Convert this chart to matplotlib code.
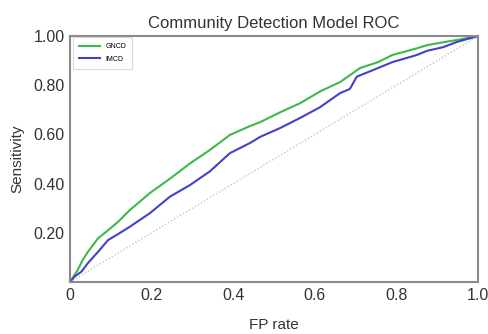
import matplotlib
matplotlib.use("Agg")
import matplotlib.pyplot as plt

plt.rcParams["font.family"] = ["Liberation Sans", "DejaVu Sans"]

# ROC points
gncd_fpr = [0, 0.019, 0.031, 0.044, 0.069, 0.093, 0.118, 0.147, 0.196, 0.245,
            0.294, 0.343, 0.392, 0.441, 0.466, 0.515, 0.564, 0.613, 0.662,
            0.711, 0.755, 0.79, 0.85, 0.875, 0.915, 0.948, 1.0]
gncd_tpr = [0, 0.049, 0.089, 0.123, 0.178, 0.21, 0.245, 0.293, 0.362, 0.42,
            0.482, 0.537, 0.598, 0.634, 0.65, 0.69, 0.727, 0.775, 0.813,
            0.87, 0.894, 0.923, 0.95, 0.963, 0.975, 0.984, 1.0]

imcd_fpr = [0, 0.011, 0.028, 0.044, 0.069, 0.093, 0.118, 0.147, 0.196, 0.245,
            0.294, 0.343, 0.392, 0.441, 0.466, 0.515, 0.564, 0.613, 0.662,
            0.686, 0.703, 0.755, 0.79, 0.85, 0.875, 0.915, 0.948, 1.0]
imcd_tpr = [0, 0.022, 0.042, 0.077, 0.123, 0.17, 0.195, 0.225, 0.28, 0.347,
            0.394, 0.45, 0.524, 0.565, 0.59, 0.626, 0.667, 0.711, 0.768,
            0.785, 0.835, 0.87, 0.894, 0.923, 0.94, 0.955, 0.976, 1.0]

xticks = [0, 0.2, 0.4, 0.6, 0.8, 1.0]
xlabels = ["0", "0.2", "0.4", "0.6", "0.8", "1.0"]
yticks = [0.2, 0.4, 0.6, 0.8, 1.0]
ylabels = ["0.20", "0.40", "0.60", "0.80", "1.00"]

fig = plt.figure(figsize=(4.88, 3.34), dpi=100)
ax = fig.add_axes([0.1434, 0.1557, 0.8361, 0.7363])

ax.plot([0, 1], [0, 1], color="#c4c4c4", lw=1, ls=(0, (1, 1.5)))
ax.plot(gncd_fpr, gncd_tpr, color="#3cb94a", lw=1.5, label="GNCD")
ax.plot(imcd_fpr, imcd_tpr, color="#4242c8", lw=1.5, label="IMCD")

ax.set_xlim(0, 1)
ax.set_ylim(0, 1)
ax.set_xticks(xticks)
ax.set_xticklabels(xlabels)
ax.set_yticks(yticks)
ax.set_yticklabels(ylabels)
ax.tick_params(length=0, labelsize=11.5, pad=4, labelcolor="#333333")

for s in ax.spines.values():
    s.set_color("#8a8a8a")
    s.set_linewidth(1.5)

ax.set_title("Community Detection Model ROC", fontsize=12, color="#333333", pad=6)
ax.set_xlabel("FP rate", fontsize=11, labelpad=11, color="#333333")
ax.set_ylabel("Sensitivity", fontsize=11, labelpad=6, color="#333333")

leg = ax.legend(loc="upper left", fontsize=5, frameon=True, fancybox=False,
                handlelength=3, borderpad=0.9, labelspacing=0.8,
                bbox_to_anchor=(-0.002, 1.01))
leg.get_frame().set_edgecolor("#d0d0d0")
leg.get_frame().set_linewidth(0.8)

fig.savefig("out.png", dpi=100)
